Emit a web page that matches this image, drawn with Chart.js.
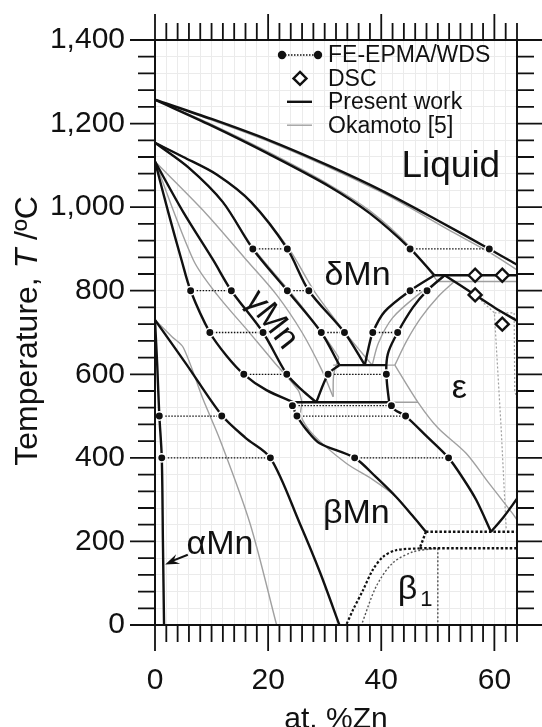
<!DOCTYPE html>
<html>
<head>
<meta charset="utf-8">
<script src="https://cdn.jsdelivr.net/npm/chart.js@4.4.1/dist/chart.umd.min.js"></script>
<style>
  html, body { margin: 0; padding: 0; background: #fff; }
  canvas { display: block; }
</style>
</head>
<body>
<canvas id="c" width="542" height="727"></canvas>
<script>
// Mn–Zn phase diagram: calculated boundaries (present work), Okamoto's assessment,
// FE-EPMA/WDS tie-line measurements and DSC signals.

// ---- axis ticks ----
const xMajorTicks = [0, 20, 40, 60];
const yMajorTicks = [0, 200, 400, 600, 800, 1000, 1200, 1400];

// ---- present work, phase boundaries [at.% Zn, T / °C] ----
const liquidus       = [[0,1257],[10,1211],[20,1161],[30.9,1098],[40,1040],[50,968],[59.1,900],[64,862]];
const deltaSolidus   = [[0,1257],[10,1195],[20,1128],[30.9,1049],[38,985],[45.1,901],[49.4,837]];
const deltaLeft      = [[0,1154],[5,1120],[10.9,1078],[17,1012],[23.4,900],[27.2,800],[33.5,700],[37.1,622]];
const gammaRight     = [[0,1154],[6,1094],[12,1012],[17.3,900],[23.4,800],[29.4,700],[32.6,622]];
const gammaEps       = [[32.6,622],[30.6,600],[28.5,533]];
const deltaRight     = [[37.1,622],[37.7,660],[38.5,700],[40.6,750],[45.1,800],[49.4,837]];
const epsLeftUpper   = [[51.2,837],[48.1,800],[45.6,760],[42.9,700],[41.3,655],[40.9,622],[41.0,580],[41.4,533]];
const epsLeftLower   = [[41.4,533],[42.4,515],[44.3,500],[48,452],[51.9,400],[54.5,350],[56.8,299],[59.4,223]];
const epsRightUpper  = [[51.2,837],[56.6,790],[60,760],[64,728]];
const epsRightLower  = [[59.4,223],[61.6,258],[64,302]];
const betaGamma      = [[0,1109],[2.4,985],[4.7,873],[6.3,800],[9.7,700],[12.6,645],[15.7,600],[19.7,562],[24.5,533]];
const gammaBeta      = [[0,1109],[5,988],[10.3,873],[13.5,800],[19.1,700],[23.3,600],[26,562],[28.5,533]];
const betaEps        = [[24.5,533],[24.6,515],[25.1,500],[26.8,467],[29.1,435],[35.3,400],[39,355],[42.6,307],[45.5,262],[47.9,223]];
const betaAlpha      = [[0,730],[5.5,625],[11.8,502],[16,448],[20.4,400],[25.6,243],[29.2,125],[32.6,0]];
const alphaBeta      = [[0,730],[0.4,620],[0.76,502],[1.2,400],[1.4,200],[1.6,0]];
const isoPeritectic  = [[49.4,837],[64,837]];
const isoDelta       = [[32.6,622],[40.9,622]];
const isoGamma       = [[24.5,533],[41.4,533]];

// ---- present work, metastable / low-temperature boundaries (dotted) ----
const beta1Upper     = [[47.9,223],[64,223]];
const beta1Lower     = [[46.8,183.5],[64,183.5]];
const beta1Link      = [[47.9,223],[46.8,183.5]];
const beta1Left      = [[46.8,183.5],[42.6,179],[40.3,163],[38.5,132],[36.8,84],[35,36],[33.8,0]];
const beta1Right     = [[49.7,183.5],[45.6,175],[42,148],[39.1,92],[36.5,0]];
const beta1Vertical  = [[50,183.5],[50,0]];

// ---- Okamoto [5] ----
const okLiquidus     = [[0,1257],[20,1158],[40,1036],[52,945],[59,893],[64,850]];
const okSolidus      = [[0,1257],[10,1198],[20,1132],[30.9,1053],[38,991],[45,906],[50,822]];
const okPeritectic   = [[50,822],[64,822]];
const okEpsLeft      = [[52.9,822],[50,785],[47,735],[44.5,680],[42.4,622]];
const okDeltaRight   = [[50,822],[46.5,790],[42,735],[39.5,675],[38.4,622]];
const okDeltaLeft    = [[0,1154],[5,1120],[10.9,1078],[17,1012],[23.7,900],[28.2,798],[34.2,690],[38.4,622]];
const okGammaRight   = [[0,1154],[6,1094],[12,1012],[17.5,900],[24.2,792],[30,690],[32.5,640]];
const okIsoDelta     = [[31.5,622],[42.4,622]];
const okGammaEps     = [[32.5,640],[31.6,600],[31.5,546]];
const okIsoGamma     = [[26,533],[46.5,533]];
const okEpsLower     = [[42.4,622],[46.5,533],[50,472],[55,411],[59,340],[63.2,267],[64,252]];
const okBetaGamma    = [[0,1109],[6.8,873],[11,790],[16.8,698],[21,630],[25.3,562],[26,533]];
const okGammaBeta    = [[0,1109],[9,985],[16.2,873],[21.5,790],[26,700],[29.5,610],[31.5,546]];
const okBetaEps      = [[26,533],[25.8,500],[28,455],[33.8,387],[38.5,348],[42.6,307],[45.5,262],[47.9,223]];
const okBetaAlpha    = [[0,730],[3,690],[5,664],[8.5,540],[11.5,443],[16.8,243],[21.5,0]];
const okZetaA        = [[56.6,790],[60,747],[61.2,470],[62.1,227]];
const okZetaB        = [[60,747],[63.5,747],[63.6,560],[64,540]];

// ---- FE-EPMA/WDS tie lines ----
const tieTemps  = [900, 900, 800, 800, 800, 700, 700, 700, 600, 600, 525, 500, 500, 400, 400];
const tieLeftX  = [17.3, 45.1, 6.3, 23.4, 45.1, 9.7, 29.4, 38.5, 15.7, 30.6, 24.3, 0.76, 25.1, 1.2, 35.3];
const tieRightX = [23.4, 59.1, 13.5, 27.2, 48.1, 19.1, 33.5, 42.9, 23.3, 40.9, 41.8, 11.8, 44.3, 20.4, 51.9];

// ---- DSC signals ----
const dscX = [56.6, 61.4, 56.6, 61.4];
const dscT = [837, 837, 790, 720];

// ---- phase labels ----
const phaseText = ['Liquid', 'δMn', 'ε', 'βMn', 'αMn'];
const phaseX    = [52.3, 35.8, 53.8, 35.6, 11.5];
const phaseT    = [1097, 837, 565, 267, 193];

const BLACK = '#111111';
const GREY = '#a0a0a0';
const FONT = '"Liberation Sans", Arial, sans-serif';

function pts(a) { return a.map(([x, y]) => ({ x, y })); }
function curve(a, color, width, dash, order, tension) {
  return { type: 'line', data: pts(a), borderColor: color, borderWidth: width,
           borderDash: dash || [], pointRadius: 0, fill: false,
           tension: tension === undefined ? 0.3 : tension, order,
           borderCapStyle: 'butt' };
}

const datasets = [];
[liquidus, deltaSolidus, deltaLeft, gammaRight, gammaEps, deltaRight, epsLeftUpper, epsLeftLower,
 epsRightUpper, epsRightLower, betaGamma, gammaBeta, betaEps, betaAlpha, alphaBeta]
  .forEach(c => datasets.push(curve(c, BLACK, 2.4, null, 2)));
[isoPeritectic, isoDelta, isoGamma].forEach(c => datasets.push(curve(c, BLACK, 2.4, null, 2, 0)));
[beta1Upper, beta1Lower, beta1Link].forEach(c => datasets.push(curve(c, BLACK, 2.4, [2.5, 2], 2, 0)));
datasets.push(curve(beta1Left, BLACK, 2.2, [2.5, 2], 2));
datasets.push(curve(beta1Right, '#555', 1.4, [2, 2], 3));
datasets.push(curve(beta1Vertical, '#555', 1.4, [2, 2], 3, 0));

[okLiquidus, okSolidus, okEpsLeft, okDeltaRight, okDeltaLeft, okGammaRight, okGammaEps,
 okEpsLower, okBetaGamma, okGammaBeta, okBetaEps, okBetaAlpha]
  .forEach(c => datasets.push(curve(c, GREY, 1.4, null, 4)));
[okPeritectic, okIsoDelta, okIsoGamma].forEach(c => datasets.push(curve(c, GREY, 1.4, null, 4, 0)));
[okZetaA, okZetaB].forEach(c => datasets.push(curve(c, GREY, 1.2, [2, 2], 4, 0)));

// tie lines
tieTemps.forEach((t, i) => {
  datasets.push(curve([[tieLeftX[i], t], [tieRightX[i], t]], BLACK, 1.3, [1.5, 1.5], 1, 0));
});
// measured compositions
const epmaPts = [];
tieTemps.forEach((t, i) => { epmaPts.push({ x: tieLeftX[i], y: t }, { x: tieRightX[i], y: t }); });
datasets.push({ type: 'scatter', data: epmaPts, pointRadius: 4.2, pointBackgroundColor: BLACK,
                pointBorderColor: '#fff', pointBorderWidth: 1.5, showLine: false, order: 0 });
datasets.push({ type: 'scatter', data: dscX.map((x, i) => ({ x, y: dscT[i] })), pointStyle: 'rectRot',
                pointRadius: 6.5, pointBackgroundColor: '#fff', pointBorderColor: BLACK,
                pointBorderWidth: 2.4, showLine: false, order: 0 });

// frame, outward ticks, legend, labels
const decor = {
  id: 'decor',
  afterDatasetsDraw(chart) {
    const { ctx, chartArea: a, scales: { x, y } } = chart;
    ctx.save();
    // phase labels
    ctx.fillStyle = BLACK;
    ctx.textAlign = 'center';
    ctx.textBaseline = 'middle';
    phaseText.forEach((s, i) => {
      ctx.font = (s === 'Liquid' ? '37px ' : '34px ') + FONT;
      ctx.fillText(s, x.getPixelForValue(phaseX[i]), y.getPixelForValue(phaseT[i]));
    });
    // γMn, rotated along the γ field
    ctx.save();
    ctx.translate(x.getPixelForValue(20.6), y.getPixelForValue(730));
    ctx.rotate(52 * Math.PI / 180);
    ctx.font = '34px ' + FONT;
    ctx.fillText('γMn', 0, 0);
    ctx.restore();
    // β1
    ctx.font = '34px ' + FONT;
    ctx.textAlign = 'left';
    const bx = x.getPixelForValue(42.9), by = y.getPixelForValue(84);
    ctx.fillText('β', bx, by);
    ctx.font = '22px ' + FONT;
    ctx.fillText('1', bx + ctx.measureText('β').width + 10, by + 10);
    // arrow to the αMn field
    const tx = x.getPixelForValue(1.8), ty = y.getPixelForValue(145);
    const fx = x.getPixelForValue(5.8), fy = y.getPixelForValue(168);
    ctx.strokeStyle = BLACK; ctx.lineWidth = 2;
    ctx.beginPath(); ctx.moveTo(fx, fy); ctx.lineTo(tx + 6, ty - 3); ctx.stroke();
    const ang = Math.atan2(ty - fy, tx - fx);
    ctx.beginPath();
    ctx.moveTo(tx, ty);
    ctx.lineTo(tx - 15 * Math.cos(ang - 0.35), ty - 15 * Math.sin(ang - 0.35));
    ctx.lineTo(tx - 9 * Math.cos(ang), ty - 9 * Math.sin(ang));
    ctx.lineTo(tx - 15 * Math.cos(ang + 0.35), ty - 15 * Math.sin(ang + 0.35));
    ctx.closePath(); ctx.fill();

    // frame
    ctx.strokeStyle = BLACK; ctx.lineWidth = 2;
    ctx.strokeRect(a.left, a.top, a.right - a.left, a.bottom - a.top);
    // outward ticks
    ctx.lineWidth = 1.8;
    ctx.beginPath();
    for (let v = 0; v <= 1400; v += 40) {
      const p = y.getPixelForValue(v), len = yMajorTicks.includes(v) ? 25 : 17;
      ctx.moveTo(a.left, p); ctx.lineTo(a.left - len, p);
      ctx.moveTo(a.right, p); ctx.lineTo(a.right + len, p);
    }
    for (let v = 0; v <= 64; v += 2) {
      const p = x.getPixelForValue(v), len = xMajorTicks.includes(v) ? 26 : 17;
      ctx.moveTo(p, a.top); ctx.lineTo(p, a.top - len);
      ctx.moveTo(p, a.bottom); ctx.lineTo(p, a.bottom + len);
    }
    ctx.stroke();

    // y-axis title with italic T
    ctx.save();
    ctx.translate(28, 331);
    ctx.rotate(-Math.PI / 2);
    ctx.textBaseline = 'middle';
    ctx.textAlign = 'left';
    const parts = [['Temperature, ', '32px ' + FONT], ['T', 'italic 32px ' + FONT], [' /ºC', '32px ' + FONT]];
    let total = 0;
    parts.forEach(([s, f]) => { ctx.font = f; total += ctx.measureText(s).width; });
    let cx = -total / 2;
    parts.forEach(([s, f]) => { ctx.font = f; ctx.fillText(s, cx, 0); cx += ctx.measureText(s).width; });
    ctx.restore();

    // x-axis title
    ctx.font = '30px ' + FONT;
    ctx.textAlign = 'center';
    ctx.textBaseline = 'alphabetic';
    ctx.fillText('at. %Zn', (a.left + a.right) / 2, 728);

    // legend
    const lx = a.left + 126, ly = a.top + 15, dy = 23.4;
    ctx.textAlign = 'left';
    ctx.textBaseline = 'middle';
    ctx.font = '23px ' + FONT;
    ctx.fillStyle = BLACK;
    ctx.strokeStyle = BLACK;
    ctx.lineWidth = 1.3; ctx.setLineDash([1.5, 1.5]);
    ctx.beginPath(); ctx.moveTo(lx + 1, ly); ctx.lineTo(lx + 37, ly); ctx.stroke();
    ctx.setLineDash([]);
    [lx + 1, lx + 37].forEach(px => { ctx.beginPath(); ctx.arc(px, ly, 4.2, 0, 2 * Math.PI); ctx.fill(); });
    ctx.fillText('FE-EPMA/WDS', lx + 47, ly + 1);
    // diamond
    ctx.lineWidth = 2.4;
    const dx = lx + 19, dyy = ly + dy;
    ctx.beginPath(); ctx.moveTo(dx, dyy - 6.5); ctx.lineTo(dx + 6.5, dyy); ctx.lineTo(dx, dyy + 6.5); ctx.lineTo(dx - 6.5, dyy); ctx.closePath();
    ctx.fillStyle = '#fff'; ctx.fill(); ctx.stroke();
    ctx.fillStyle = BLACK;
    ctx.fillText('DSC', lx + 47, dyy + 1);
    ctx.lineWidth = 2.4;
    ctx.beginPath(); ctx.moveTo(lx + 6, ly + 2 * dy); ctx.lineTo(lx + 31, ly + 2 * dy); ctx.stroke();
    ctx.fillText('Present work', lx + 47, ly + 2 * dy + 1);
    ctx.strokeStyle = GREY; ctx.lineWidth = 1.4;
    ctx.beginPath(); ctx.moveTo(lx + 6, ly + 3 * dy); ctx.lineTo(lx + 31, ly + 3 * dy); ctx.stroke();
    ctx.fillText('Okamoto [5]', lx + 47, ly + 3 * dy + 1);
    ctx.restore();
  }
};

function fixX(s) { s.height = 102; s.paddingLeft = 0; s.paddingRight = 0; s.paddingTop = 0; s.paddingBottom = 0; }
function fixY(s) { s.width = 155; s.paddingLeft = 0; s.paddingRight = 0; s.paddingTop = 0; s.paddingBottom = 0; }

new Chart(document.getElementById('c'), {
  type: 'line',
  data: { datasets },
  options: {
    responsive: false,
    animation: false,
    events: [],
    layout: { padding: { top: 40, right: 25, left: 0, bottom: 0 } },
    plugins: { legend: { display: false }, tooltip: { enabled: false } },
    scales: {
      x: {
        type: 'linear', min: 0, max: 64, position: 'bottom',
        afterFit: fixX,
        border: { display: false },
        grid: { color: '#ebebeb', lineWidth: 1, drawTicks: false },
        ticks: { stepSize: 2, autoSkip: false, maxRotation: 0, maxTicksLimit: 100, padding: 38,
                 color: BLACK, font: { size: 30, family: FONT },
                 callback: v => xMajorTicks.includes(v) ? String(v) : '' }
      },
      y: {
        type: 'linear', min: 0, max: 1400,
        afterFit: fixY,
        border: { display: false },
        grid: { color: '#ebebeb', lineWidth: 1, drawTicks: false },
        ticks: { stepSize: 40, autoSkip: false, maxTicksLimit: 100, padding: 30,
                 color: BLACK, font: { size: 30, family: FONT },
                 callback: v => yMajorTicks.includes(v) ? v.toLocaleString('en-US') : '' }
      }
    }
  },
  plugins: [decor]
});
</script>
</body>
</html>
